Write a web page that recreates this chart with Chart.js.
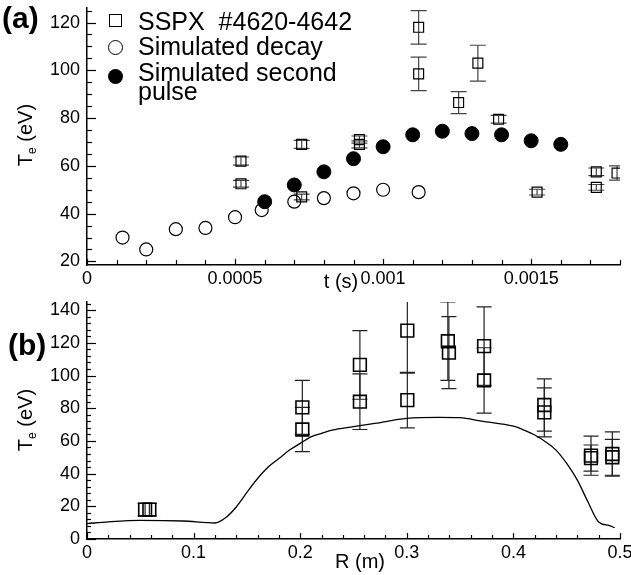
<!DOCTYPE html>
<html>
<head>
<meta charset="utf-8">
<script src="https://cdn.jsdelivr.net/npm/chart.js@4.4.1/dist/chart.umd.min.js"></script>
<style>
  body { margin: 0; background: #fff; }
  #wrap { position: relative; width: 631px; height: 575px; font-family: "Liberation Sans", Arial, sans-serif; color: #000; overflow: hidden; }
  canvas { position: absolute; left: 0; }
  .txt { position: absolute; white-space: pre; line-height: 1; }
  .center { transform: translate(-50%, -50%); }
  .ytitle { position: absolute; white-space: pre; line-height: 1; font-size: 20px; transform: translate(-50%, -50%) rotate(-90deg); }
  .sub { font-size: 12px; position: relative; top: 4px; }
  .leg { font-size: 25px; left: 138px; }
  .mark { position: absolute; box-sizing: border-box; }
</style>
</head>
<body>
<div id="wrap">
  <canvas id="chartA" width="631" height="300" style="top:0"></canvas>
  <canvas id="chartB" width="631" height="285" style="top:290px"></canvas>

  <div class="txt" style="left:2px; top:3px; font-size:30px; font-weight:bold">(a)</div>
  <div class="txt" style="left:8px; top:330px; font-size:30px; font-weight:bold">(b)</div>

  <div class="ytitle" style="left:25px; top:135px">T<span class="sub">e</span> (eV)</div>
  <div class="ytitle" style="left:25px; top:420px">T<span class="sub">e</span> (eV)</div>
  <div class="txt center" style="left:341px; top:281px; font-size:20px">t (s)</div>
  <div class="txt center" style="left:360px; top:561px; font-size:20px">R (m)</div>

  <div class="mark" style="left:109px; top:14px; width:13px; height:13px; border:1.4px solid #000"></div>
  <div class="mark" style="left:108px; top:40px; width:15px; height:15px; border:1.3px solid #000; border-radius:50%"></div>
  <div class="mark" style="left:108px; top:69px; width:15px; height:15px; background:#000; border-radius:50%"></div>
  <div class="txt leg" style="top:9px">SSPX  #4620-4642</div>
  <div class="txt leg" style="top:34px">Simulated decay</div>
  <div class="txt leg" style="top:60px">Simulated second</div>
  <div class="txt leg" style="top:79px">pulse</div>
</div>
<script>
// (a) Te vs time
const sspxTime = [0.00052, 0.00052, 0.000725, 0.000725, 0.00092, 0.00092, 0.00112, 0.00112, 0.001255, 0.00132, 0.00139, 0.00152, 0.00172, 0.00172, 0.00179];
const sspxTe = [62, 52.5, 69, 47, 71, 69, 118, 98.5, 86.5, 103, 79.5, 49, 57.5, 51, 57];
const sspxErr = [1.7, 1.4, 1.7, 1.2, 1.5, 1.5, 7, 7, 4.6, 7.5, 1.6, 1.2, 1.6, 1.2, 3];

const decayTime = [0.00012, 0.0002, 0.0003, 0.0004, 0.0005, 0.00059, 0.0007, 0.0008, 0.0009, 0.001, 0.00112];
const decayTe = [30, 25, 33.5, 34, 38.5, 41.5, 45, 46.5, 48.5, 50, 49];

const pulseTime = [0.0006, 0.0007, 0.0008, 0.0009, 0.001, 0.0011, 0.0012, 0.0013, 0.0014, 0.0015, 0.0016];
const pulseTe = [45, 52, 57.5, 63, 68, 73, 74.5, 73.5, 73, 70.5, 69];

const timeTicks = [0, 0.0005, 0.001, 0.0015];
const teTicksA = [20, 40, 60, 80, 100, 120];

// (b) Te profile vs radius
const profR = [0, 0.02, 0.05, 0.09, 0.12, 0.13, 0.14, 0.15, 0.16, 0.17, 0.18, 0.19, 0.2, 0.21, 0.22, 0.23, 0.25, 0.27, 0.3, 0.33, 0.35, 0.37, 0.4, 0.41, 0.42, 0.43, 0.44, 0.45, 0.46, 0.47, 0.48, 0.49, 0.495];
const profTe = [9.4, 10.5, 11.4, 11, 9.8, 13, 19.6, 28.5, 37, 44, 49.2, 54.4, 58.5, 62.5, 64.6, 66.6, 68.7, 70.7, 73.8, 74.4, 74.2, 72.1, 69, 66.6, 63.6, 59.5, 54.4, 46.2, 36, 22.6, 10.4, 8.2, 6.9];

const tsR = [0.0545, 0.0585, 0.202, 0.202, 0.256, 0.256, 0.3005, 0.3005, 0.3385, 0.3395, 0.3725, 0.3725, 0.429, 0.429, 0.4728, 0.4728, 0.4928, 0.4928];
const tsTe = [18, 18, 80.5, 67, 106.5, 84, 127.5, 85, 121, 114, 118, 97, 82, 77.5, 51, 49.5, 52, 50];
const tsErr = [3.8, 3.8, 16.5, 13.5, 21, 17, 26, 17, 24, 22, 24, 20, 16, 15, 12, 8, 13.5, 11];

const radiusTicks = [0, 0.1, 0.2, 0.3, 0.4, 0.5];
const teTicksB = [0, 20, 40, 60, 80, 100, 120, 140];

const font = "'Liberation Sans', Arial, sans-serif";
const pts = (xs, ys) => xs.map((x, i) => ({ x: x, y: ys[i] }));

// tick marks pointing into the plot, majors longer than minors
const inwardTicks = {
  id: 'inwardTicks',
  afterDraw(chart, args, opts) {
    const ctx = chart.ctx, a = chart.chartArea;
    ctx.save();
    ctx.strokeStyle = '#000';
    ctx.lineWidth = 1.2;
    for (const id of ['x', 'y']) {
      const s = chart.scales[id], o = opts[id];
      const majors = s.ticks.map(t => t.value);
      const k0 = Math.ceil(s.min / o.minor - 1e-6), k1 = Math.floor(s.max / o.minor + 1e-6);
      for (let k = k0; k <= k1; k++) {
        const v = k * o.minor;
        const len = majors.some(m => Math.abs(m - v) < o.minor * 0.01) ? o.major : o.short;
        const p = Math.round(s.getPixelForValue(v)) + 0.5;
        ctx.beginPath();
        if (id === 'x') { ctx.moveTo(p, a.bottom); ctx.lineTo(p, a.bottom - len); }
        else { ctx.moveTo(a.left, p); ctx.lineTo(a.left + len, p); }
        ctx.stroke();
      }
    }
    ctx.restore();
  }
};

const errorBars = {
  id: 'errorBars',
  beforeDatasetsDraw(chart, args, opts) {
    const ctx = chart.ctx, a = chart.chartArea, y = chart.scales.y;
    const meta = chart.getDatasetMeta(opts.dataset);
    const ds = chart.data.datasets[opts.dataset];
    ctx.save();
    ctx.beginPath();
    ctx.rect(a.left, a.top, a.right - a.left, a.bottom - a.top);
    ctx.clip();
    ctx.strokeStyle = opts.color;
    ctx.lineWidth = opts.width;
    meta.data.forEach((pt, i) => {
      const v = ds.data[i].y, e = opts.err[i];
      const top = y.getPixelForValue(v + e), bot = y.getPixelForValue(v - e);
      ctx.beginPath();
      ctx.moveTo(pt.x, top); ctx.lineTo(pt.x, bot);
      ctx.moveTo(pt.x - opts.cap, top); ctx.lineTo(pt.x + opts.cap, top);
      ctx.moveTo(pt.x - opts.cap, bot); ctx.lineTo(pt.x + opts.cap, bot);
      ctx.stroke();
    });
    ctx.restore();
  }
};

function axis(min, max, ticks, isX, size) {
  return {
    type: 'linear',
    min: min,
    max: max,
    afterBuildTicks: s => { s.ticks = ticks.map(v => ({ value: v })); },
    afterFit: s => {
      if (isX) { s.height = size; s.paddingLeft = 0; s.paddingRight = 0; }
      else { s.width = size; s.paddingTop = 0; s.paddingBottom = 0; }
    },
    ticks: { color: '#000', font: { family: font, size: 18 }, padding: isX ? 3 : 7, maxRotation: 0, autoSkip: false, callback: v => String(v) },
    grid: { display: true, drawOnChartArea: false, drawTicks: false },
    border: { display: true, color: '#000', width: 1.5 }
  };
}

const chartA = new Chart(document.getElementById('chartA'), {
  type: 'scatter',
  data: {
    datasets: [
      {
        label: 'SSPX  #4620-4642',
        data: pts(sspxTime, sspxTe),
        pointStyle: 'rect',
        pointRadius: 7,
        borderColor: '#000',
        borderWidth: 1.2,
        backgroundColor: 'transparent'
      },
      {
        label: 'Simulated decay',
        data: pts(decayTime, decayTe),
        pointRadius: 6.5,
        borderColor: '#000',
        borderWidth: 1.2,
        backgroundColor: 'transparent'
      },
      {
        label: 'Simulated second pulse',
        data: pts(pulseTime, pulseTe),
        pointRadius: 7,
        borderColor: '#000',
        borderWidth: 1,
        backgroundColor: '#000'
      }
    ]
  },
  options: {
    responsive: false,
    animation: false,
    layout: { padding: { top: 6, right: 11, left: 0, bottom: 0 } },
    plugins: {
      legend: { display: false },
      tooltip: { enabled: false },
      errorBars: { dataset: 0, err: sspxErr, cap: 8, color: '#444', width: 1.2 },
      inwardTicks: { x: { minor: 0.0001, major: 6, short: 5 }, y: { minor: 5, major: 9, short: 5 } }
    },
    scales: {
      x: axis(0, 0.0018, timeTicks, true, 35),
      y: axis(18.5, 126, teTicksA, false, 87)
    }
  },
  plugins: [errorBars, inwardTicks]
});

const chartB = new Chart(document.getElementById('chartB'), {
  type: 'scatter',
  data: {
    datasets: [
      {
        label: 'Thomson scattering',
        data: pts(tsR, tsTe),
        pointStyle: 'rect',
        pointRadius: 9,
        borderColor: '#000',
        borderWidth: 1.6,
        backgroundColor: 'transparent'
      },
      {
        label: 'Simulation',
        data: pts(profR, profTe),
        showLine: true,
        pointRadius: 0,
        borderColor: '#000',
        borderWidth: 1.3,
        cubicInterpolationMode: 'monotone'
      }
    ]
  },
  options: {
    responsive: false,
    animation: false,
    layout: { padding: { top: 12, right: 11, left: 0, bottom: 0 } },
    plugins: {
      legend: { display: false },
      tooltip: { enabled: false },
      errorBars: { dataset: 0, err: tsErr, cap: 7.5, color: '#222', width: 1.2 },
      inwardTicks: { x: { minor: 0.02, major: 6, short: 4 }, y: { minor: 4, major: 9, short: 4 } }
    },
    scales: {
      x: axis(0, 0.5, radiusTicks, true, 36),
      y: axis(0, 145, teTicksB, false, 87)
    }
  },
  plugins: [errorBars, inwardTicks]
});
</script>
</body>
</html>
